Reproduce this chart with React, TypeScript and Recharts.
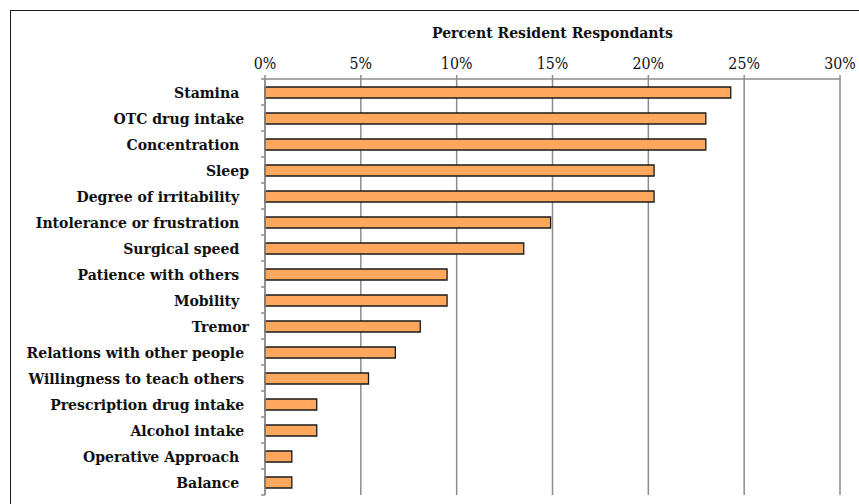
import { BarChart, Bar, XAxis, YAxis, CartesianGrid } from "recharts";

// categories top to bottom (trailing spaces kept as in the source sheet)
const categories = [
  "Stamina  ",
  "OTC drug intake ",
  "Concentration  ",
  "Sleep",
  "Degree of irritability  ",
  "Intolerance or frustration  ",
  "Surgical speed  ",
  "Patience with others  ",
  "Mobility  ",
  "Tremor",
  "Relations with other people ",
  "Willingness to teach others ",
  "Prescription drug intake ",
  "Alcohol intake ",
  "Operative Approach  ",
  "Balance  ",
];

const percents = [
  24.3, 23.0, 23.0, 20.3, 20.3, 14.9, 13.5, 9.5, 9.5, 8.1, 6.8, 5.4, 2.7, 2.7,
  1.4, 1.4,
];

const xTicks = [0, 5, 10, 15, 20, 25, 30];

const chartData = categories.map((name, i) => ({
  name,
  value: percents[i],
}));

const FONT = "'DejaVu Serif Condensed', 'DejaVu Serif', serif";
const GRID = "#8c8c8c";

function CategoryTick(props: any) {
  const { x, y, payload, index } = props;
  const half = 13;
  return (
    <g>
      <line x1={x - 4} x2={x} y1={y - half} y2={y - half} stroke={GRID} strokeWidth={1.5} />
      {index === categories.length - 1 && (
        <line x1={x - 4} x2={x} y1={y + half} y2={y + half} stroke={GRID} strokeWidth={1.5} />
      )}
      <text
        x={x - 16}
        y={y}
        textAnchor="end"
        dominantBaseline="central"
        fontFamily={FONT}
        fontWeight="bold"
        fontSize={15.6}
        fill="#111"
        style={{ whiteSpace: "pre", fontStretch: "condensed" }}
      >
        {payload.value}
      </text>
    </g>
  );
}

export default function App() {
  return (
    <div
      style={{
        position: "absolute",
        left: 0,
        top: 0,
        width: 859,
        height: 504,
        overflow: "hidden",
        background: "#fff",
      }}
    >
      <div
        style={{
          position: "absolute",
          left: 10,
          top: 10,
          width: 900,
          height: 600,
          border: "1.5px solid #1a1a1a",
        }}
      />
      <div style={{ position: "absolute", left: 0, top: 0 }}>
        <BarChart
          width={859}
          height={504}
          data={chartData}
          layout="vertical"
          margin={{ top: 49, right: 19, bottom: 9, left: 0 }}
        >
          <CartesianGrid horizontal={false} stroke={GRID} strokeWidth={1.5} />
          <XAxis
            type="number"
            orientation="top"
            domain={[0, 30]}
            ticks={xTicks}
            tickFormatter={(v) => `${v}%`}
            interval={0}
            height={30}
            axisLine={{ stroke: GRID, strokeWidth: 1.5 }}
            tickLine={{ stroke: GRID, strokeWidth: 1.5 }}
            tickSize={4}
            tickMargin={6}
            tick={{ fontFamily: FONT, fontSize: 15.8, fill: "#111", style: { fontStretch: "condensed" } }}
            label={{
              value: "Percent Resident Respondants",
              position: "top",
              offset: 11,
              fontFamily: FONT,
              fontWeight: "bold",
              fontSize: 15.6,
              fill: "#111",
              style: { fontStretch: "condensed" },
            }}
          />
          <YAxis
            type="category"
            dataKey="name"
            width={265}
            interval={0}
            axisLine={{ stroke: GRID, strokeWidth: 1.5 }}
            tickLine={false}
            tickSize={0}
            tickMargin={0}
            tick={<CategoryTick />}
          />
          <Bar
            dataKey="value"
            fill="#FFA75C"
            stroke="#1a1a1a"
            strokeWidth={1.3}
            barSize={11}
            isAnimationActive={false}
          />
        </BarChart>
      </div>
    </div>
  );
}
